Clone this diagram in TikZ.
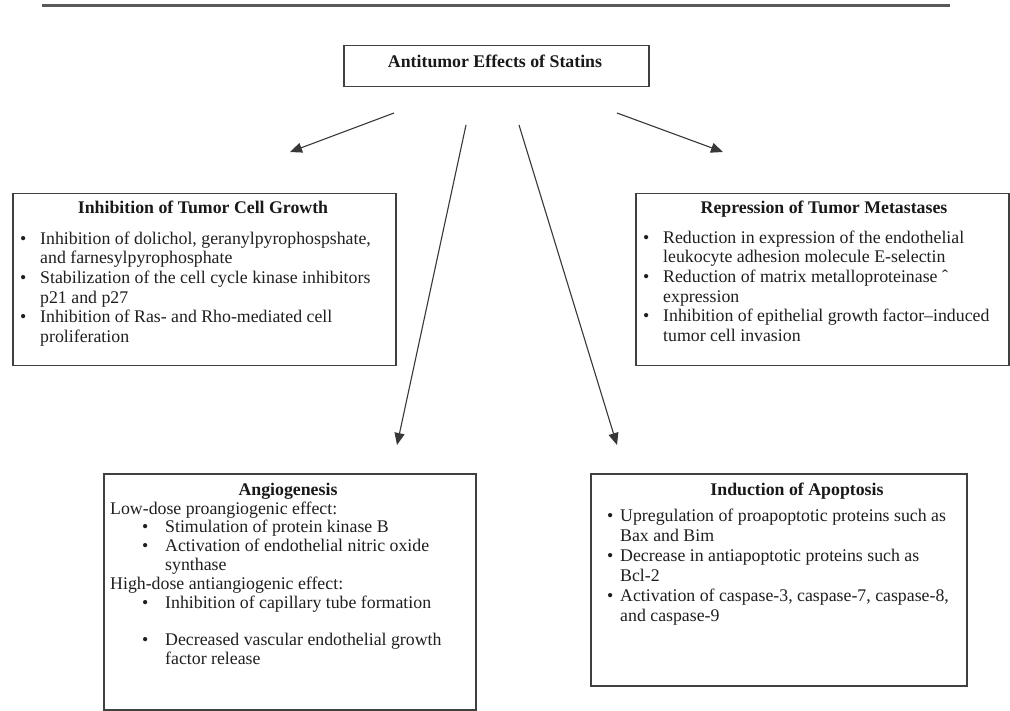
\documentclass[tikz,border=0pt]{standalone}
\usepackage{fontspec}
\setmainfont{Liberation Serif}
\usetikzlibrary{arrows.meta}
\newcommand{\bl}[1]{\makebox[#1][l]{\textbullet}}
\newcommand{\ind}[1]{\hspace*{#1}}
\begin{document}
\begin{tikzpicture}[x=1pt,y=-1pt,
  box/.style={draw=black!75, line width=1.5pt, rectangle, inner sep=0pt, anchor=north west},
  ttl/.style={font=\fontsize{17.8}{19.6}\selectfont\bfseries, text=black!90, inner sep=0pt, anchor=base},
  body/.style={font=\fontsize{17.8}{19.6}\selectfont, text=black!88, align=left, inner sep=0pt, anchor=north west},
  arr/.style={draw=black!78, line width=1.1pt, -{Triangle[length=12pt,width=10pt]}},
  rulestyle/.style={line width=3pt, draw=black!65}
]
\useasboundingbox (0,0) rectangle (1010,711);
\fill[white] (0,0) rectangle (1010,711);

% top rule
\draw[rulestyle] (42,6) -- (950,6);

% top box
\node[box, minimum width=305pt, minimum height=41pt] (top) at (343,45) {};
\node[ttl] (topT) at (495,68) {Antitumor Effects of Statins};

% growth
\node[box, minimum width=383pt, minimum height=172pt] (growth) at (12,193) {};
\node[ttl] (growthT) at (203,214) {Inhibition of Tumor Cell Growth};
\node[body] (growthB) at (20,230.3) {\strut\bl{20pt}Inhibition of dolichol, geranylpyrophospshate,\\
\ind{20pt}and farnesylpyrophosphate\\
\bl{20pt}Stabilization of the cell cycle kinase inhibitors\\
\ind{20pt}p21 and p27\\
\bl{20pt}Inhibition of Ras- and Rho-mediated cell\\
\ind{20pt}proliferation};

% metastases
\node[box, minimum width=373pt, minimum height=172pt] (meta) at (635,193) {};
\node[ttl] (metaT) at (824,214) {Repression of Tumor Metastases};
\node[body] (metaB) at (643,229.3) {\strut\bl{20pt}Reduction in expression of the endothelial\\
\ind{20pt}leukocyte adhesion molecule E-selectin\\
\bl{20pt}Reduction of matrix metalloproteinase ˆ\\
\ind{20pt}expression\\
\bl{20pt}Inhibition of epithelial growth factor–induced\\
\ind{20pt}tumor cell invasion};

% angiogenesis
\node[box, minimum width=372pt, minimum height=236pt] (angio) at (103,473) {};
\node[ttl] (angioT) at (288,495) {Angiogenesis};
\node[body, font=\fontsize{17.8}{18.8}\selectfont] (angioB) at (110,500.8) {\strut Low-dose proangiogenic effect:\\
\ind{32pt}\bl{23pt}Stimulation of protein kinase B\\
\ind{32pt}\bl{23pt}Activation of endothelial nitric oxide\\
\ind{55pt}synthase\\
High-dose antiangiogenic effect:\\
\ind{32pt}\bl{23pt}Inhibition of capillary tube formation\\
\strut\\
\ind{32pt}\bl{23pt}Decreased vascular endothelial growth\\
\ind{55pt}factor release};

% apoptosis
\node[box, minimum width=376pt, minimum height=212pt] (apop) at (590,473) {};
\node[ttl] (apopT) at (797,495) {Induction of Apoptosis};
\node[body, font=\fontsize{17.8}{20}\selectfont] (apopB) at (607,507) {\strut\bl{13pt}Upregulation of proapoptotic proteins such as\\
\ind{13pt}Bax and Bim\\
\bl{13pt}Decrease in antiapoptotic proteins such as\\
\ind{13pt}Bcl-2\\
\bl{13pt}Activation of caspase-3, caspase-7, caspase-8,\\
\ind{13pt}and caspase-9};

% arrows
\coordinate (s1) at (394,113); \coordinate (e1) at (290,152);
\coordinate (s2) at (466,125); \coordinate (e2) at (397,445);
\coordinate (s3) at (519,125); \coordinate (e3) at (617,445);
\coordinate (s4) at (617,113); \coordinate (e4) at (723,152);
\draw[arr] (s1) -- (e1);
\draw[arr] (s2) -- (e2);
\draw[arr] (s3) -- (e3);
\draw[arr] (s4) -- (e4);
\end{tikzpicture}
\end{document}
